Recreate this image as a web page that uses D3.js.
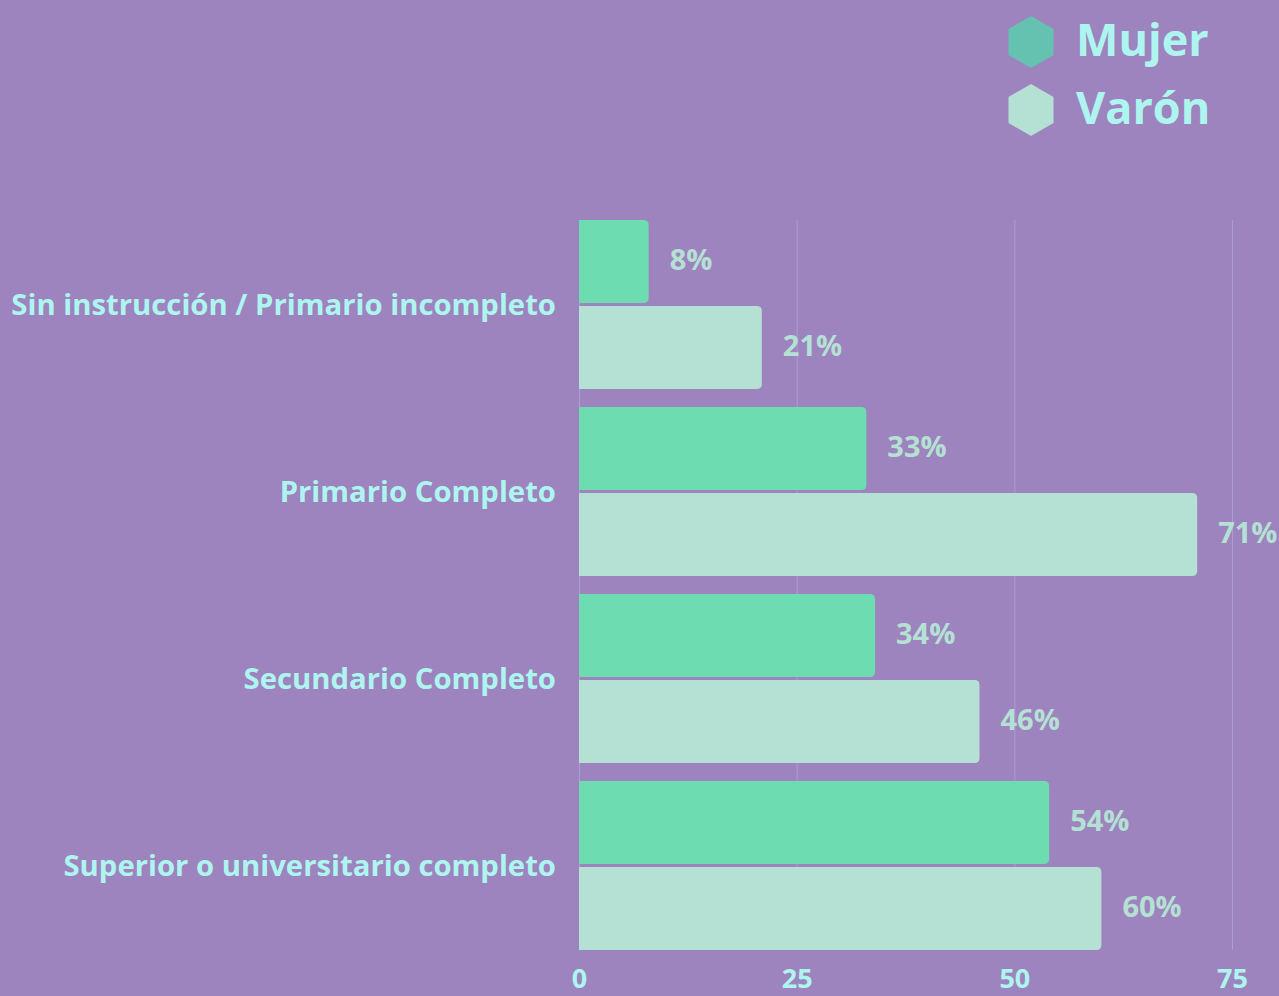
<!DOCTYPE html>
<html>
<head>
<meta charset="utf-8">
<script src="https://cdn.jsdelivr.net/npm/d3@7"></script>
<style>
  html, body { margin: 0; padding: 0; background: #9d84be; }
  svg { display: block; font-family: "Open Sans", "Noto Sans", sans-serif; font-weight: 700; }
</style>
</head>
<body>
<svg id="chart" width="1279" height="996"></svg>
<script>
var categories = ['Sin instrucción / Primario incompleto', 'Primario Completo', 'Secundario Completo', 'Superior o universitario completo'];
var seriesNames = ['Mujer', 'Varón'];
var mujerValues = [8, 33, 34, 54];
var varonValues = [21, 71, 46, 60];
var xTicks = [0, 25, 50, 75];

var width = 1279, height = 996;
var textColor = '#aff5ef';
var barColors = { 'Mujer': '#6ddcb0', 'Varón': '#b5e1d4' };
var legendColors = { 'Mujer': '#66c2b0', 'Varón': '#b5e1d4' };

var svg = d3.select('#chart');

var x = d3.scaleLinear().domain([0, 75]).range([579, 1232]);
var y0 = d3.scaleBand().domain(categories).range([220, 968]).paddingInner(0);
var y1 = d3.scaleBand().domain(seriesNames).range([0, 169]).paddingInner(0.035);

// grid
svg.append('g').selectAll('line')
    .data(xTicks)
    .enter().append('line')
    .attr('x1', function (d) { return x(d) + 0.5; })
    .attr('x2', function (d) { return x(d) + 0.5; })
    .attr('y1', 220)
    .attr('y2', 950)
    .attr('stroke', '#ab9fd0')
    .attr('stroke-width', 1);

var rows = [];
categories.forEach(function (c, i) {
    rows.push({ cat: c, series: 'Mujer', value: mujerValues[i] });
    rows.push({ cat: c, series: 'Varón', value: varonValues[i] });
});

function barPath(d) {
    var x0 = x(0), x1 = x(d.value), top = y0(d.cat) + y1(d.series), h = y1.bandwidth(), r = 5;
    return 'M' + x0 + ',' + top +
        'H' + (x1 - r) + 'Q' + x1 + ',' + top + ' ' + x1 + ',' + (top + r) +
        'V' + (top + h - r) + 'Q' + x1 + ',' + (top + h) + ' ' + (x1 - r) + ',' + (top + h) +
        'H' + x0 + 'Z';
}

svg.append('g').selectAll('path')
    .data(rows)
    .enter().append('path')
    .attr('d', barPath)
    .attr('fill', function (d) { return barColors[d.series]; });

// value labels
svg.append('g').selectAll('text')
    .data(rows)
    .enter().append('text')
    .attr('x', function (d) { return x(d.value) + 21; })
    .attr('y', function (d) { return y0(d.cat) + y1(d.series) + y1.bandwidth() / 2 - 2; })
    .attr('dy', '0.35em')
    .attr('fill', '#b5e1d4')
    .attr('font-size', 29)
    .text(function (d) { return d.value + '%'; });

// category labels
svg.append('g').selectAll('text')
    .data(categories)
    .enter().append('text')
    .attr('x', 556)
    .attr('y', function (d) { return y0(d) + 169 / 2; })
    .attr('dy', '0.35em')
    .attr('text-anchor', 'end')
    .attr('fill', textColor)
    .attr('font-size', 29.3)
    .text(function (d) { return d; });

// x axis
var xAxis = d3.axisBottom(x).tickValues(xTicks).tickSize(0).tickPadding(0);
var gx = svg.append('g').attr('transform', 'translate(0,969)').call(xAxis);
gx.select('.domain').remove();
gx.selectAll('text')
    .attr('fill', textColor)
    .attr('font-size', 27)
    .attr('font-family', '"Open Sans", sans-serif')
    .attr('font-weight', 700)
    .attr('dy', '0.71em');

// legend
var hex = d3.range(6).map(function (i) {
    var a = Math.PI / 3 * i - Math.PI / 2;
    return [26 * Math.cos(a), 26 * Math.sin(a)];
});
var legend = svg.append('g').selectAll('g')
    .data(seriesNames)
    .enter().append('g')
    .attr('transform', function (d, i) { return 'translate(1031,' + (42 + i * 68) + ')'; });
legend.append('path')
    .attr('d', 'M' + hex.join('L') + 'Z')
    .attr('fill', function (d) { return legendColors[d]; });
legend.append('text')
    .attr('x', 45)
    .attr('y', -2)
    .attr('dy', '0.35em')
    .attr('fill', textColor)
    .attr('font-size', 45)
    .text(function (d) { return d; });
</script>
</body>
</html>
